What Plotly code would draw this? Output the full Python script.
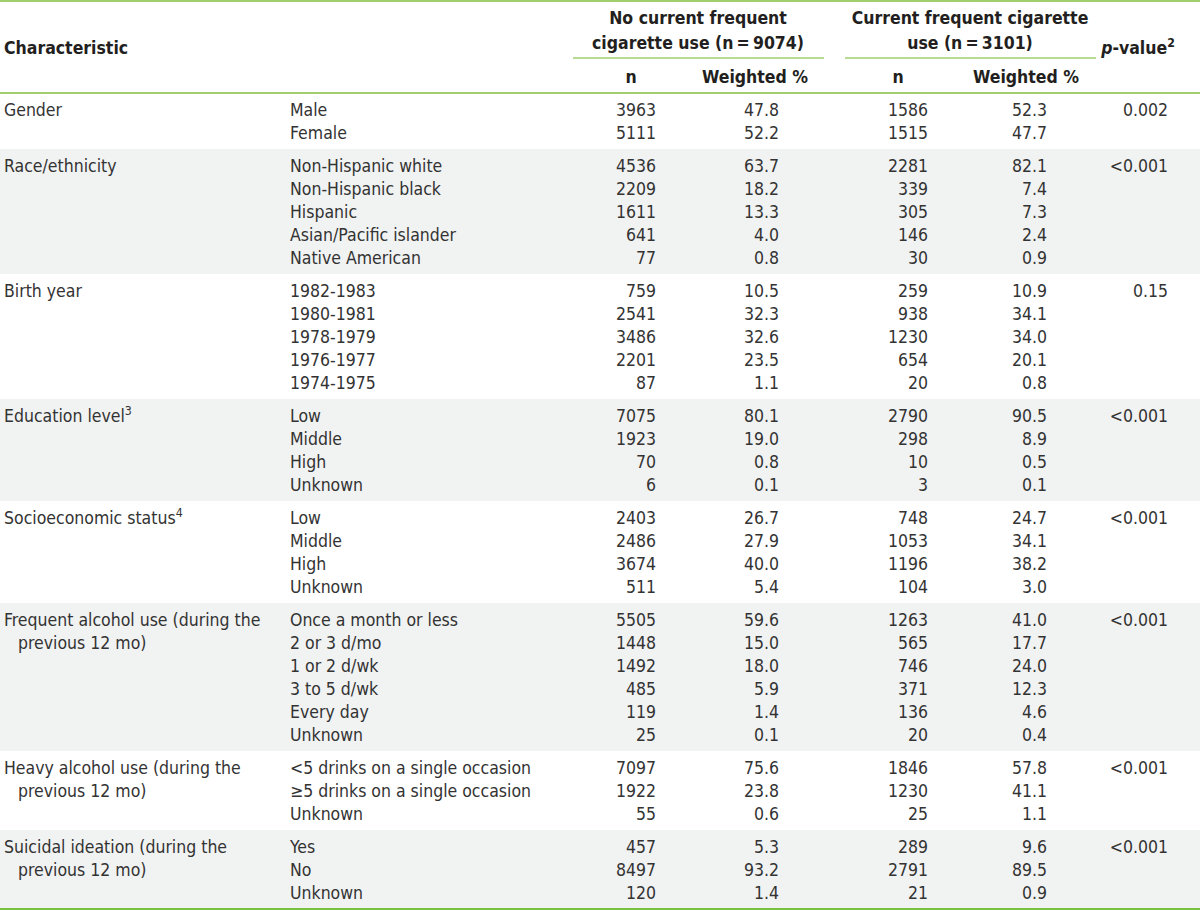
import plotly.graph_objects as go

# ---------------- data ----------------
characteristics = [
    ["Gender"],
    ["Race/ethnicity"],
    ["Birth year"],
    ["Education level<sup>3</sup>"],
    ["Socioeconomic status<sup>4</sup>"],
    ["Frequent alcohol use (during the", "previous 12 mo)"],
    ["Heavy alcohol use (during the", "previous 12 mo)"],
    ["Suicidal ideation (during the", "previous 12 mo)"],
]
subcategories = [
    ["Male", "Female"],
    ["Non-Hispanic white", "Non-Hispanic black", "Hispanic", "Asian/Pacific islander", "Native American"],
    ["1982-1983", "1980-1981", "1978-1979", "1976-1977", "1974-1975"],
    ["Low", "Middle", "High", "Unknown"],
    ["Low", "Middle", "High", "Unknown"],
    ["Once a month or less", "2 or 3 d/mo", "1 or 2 d/wk", "3 to 5 d/wk", "Every day", "Unknown"],
    ["<5 drinks on a single occasion", "\u22655 drinks on a single occasion", "Unknown"],
    ["Yes", "No", "Unknown"],
]
n_no = [
    [3963, 5111],
    [4536, 2209, 1611, 641, 77],
    [759, 2541, 3486, 2201, 87],
    [7075, 1923, 70, 6],
    [2403, 2486, 3674, 511],
    [5505, 1448, 1492, 485, 119, 25],
    [7097, 1922, 55],
    [457, 8497, 120],
]
pct_no = [
    ["47.8", "52.2"],
    ["63.7", "18.2", "13.3", "4.0", "0.8"],
    ["10.5", "32.3", "32.6", "23.5", "1.1"],
    ["80.1", "19.0", "0.8", "0.1"],
    ["26.7", "27.9", "40.0", "5.4"],
    ["59.6", "15.0", "18.0", "5.9", "1.4", "0.1"],
    ["75.6", "23.8", "0.6"],
    ["5.3", "93.2", "1.4"],
]
n_yes = [
    [1586, 1515],
    [2281, 339, 305, 146, 30],
    [259, 938, 1230, 654, 20],
    [2790, 298, 10, 3],
    [748, 1053, 1196, 104],
    [1263, 565, 746, 371, 136, 20],
    [1846, 1230, 25],
    [289, 2791, 21],
]
pct_yes = [
    ["52.3", "47.7"],
    ["82.1", "7.4", "7.3", "2.4", "0.9"],
    ["10.9", "34.1", "34.0", "20.1", "0.8"],
    ["90.5", "8.9", "0.5", "0.1"],
    ["24.7", "34.1", "38.2", "3.0"],
    ["41.0", "17.7", "24.0", "12.3", "4.6", "0.4"],
    ["57.8", "41.1", "1.1"],
    ["9.6", "89.5", "0.9"],
]
p_values = ["0.002", "<0.001", "0.15", "<0.001", "<0.001", "<0.001", "<0.001", "<0.001"]

group_header_1 = ["No current frequent", "cigarette use (n\u2009=\u20099074)"]
group_header_2 = ["Current frequent cigarette", "use (n\u2009=\u20093101)"]
sub_headers = ["n", "Weighted %", "n", "Weighted %"]

# ---------------- style / layout constants ----------------
W, H = 1200, 911
FONT = "DejaVu Sans Condensed, Liberation Sans Narrow, Arial Narrow, sans-serif"
BODY = 17.5
HEAD = 17.5
TXT = "#333333"
HTXT = "#231f20"
GREEN_LIGHT = "#9fcf6e"
GREEN = "#7cc242"
BAND = "#f1f2f2"

HEADER_BOTTOM = 93
ROW = 23
PAD_TOP = 16.5
PAD_EXTRA = 10
DY = 2.5  # optical shift of text baseline

X_CHAR, X_CHAR_INDENT, X_SUB = 4, 18, 290
X_N1, X_W1, X_N2, X_W2, X_P = 656, 779, 928, 1047, 1168


def esc(s):
    return s.replace("<5", "&lt;5").replace("<0", "&lt;0")


fig = go.Figure()
shapes = []

char_x, char_y, char_t = [], [], []
sub_y, sub_t = [], []
n1, w1, n2, w2 = [], [], [], []
p_y, p_t = [], []

top = HEADER_BOTTOM
for g, subs in enumerate(subcategories):
    k = len(subs)
    height = ROW * k + PAD_EXTRA
    if g % 2 == 1:
        shapes.append(dict(type="rect", xref="x", yref="y", x0=0, x1=W, y0=top, y1=top + height,
                           fillcolor=BAND, line=dict(width=0), layer="below"))
    ys = [top + PAD_TOP + DY + ROW * i for i in range(k)]
    for j, line in enumerate(characteristics[g]):
        char_x.append(X_CHAR if j == 0 else X_CHAR_INDENT)
        char_y.append(ys[j])
        char_t.append(line)
    sub_y += ys
    sub_t += [esc(s) for s in subs]
    n1 += [str(v) for v in n_no[g]]
    w1 += pct_no[g]
    n2 += [str(v) for v in n_yes[g]]
    w2 += pct_yes[g]
    p_y.append(ys[0])
    p_t.append(esc(p_values[g]))
    top += height


def text_trace(xs, ys, texts, pos, size=BODY, color=TXT):
    return go.Scatter(x=xs, y=ys, text=texts, mode="text", textposition=pos,
                      textfont=dict(family=FONT, size=size, color=color),
                      hoverinfo="skip", showlegend=False, cliponaxis=False)


fig.add_trace(text_trace(char_x, char_y, char_t, "middle right"))
fig.add_trace(text_trace([X_SUB] * len(sub_y), sub_y, sub_t, "middle right"))
fig.add_trace(text_trace([X_N1] * len(sub_y), sub_y, n1, "middle left"))
fig.add_trace(text_trace([X_W1] * len(sub_y), sub_y, w1, "middle left"))
fig.add_trace(text_trace([X_N2] * len(sub_y), sub_y, n2, "middle left"))
fig.add_trace(text_trace([X_W2] * len(sub_y), sub_y, w2, "middle left"))
fig.add_trace(text_trace([X_P] * len(p_y), p_y, p_t, "middle left"))

# headers
bold = lambda s: "<b>" + s + "</b>"
fig.add_trace(text_trace([X_CHAR], [47 + DY], [bold("Characteristic")], "middle right", HEAD, HTXT))
fig.add_trace(text_trace([698, 698], [17 + DY, 42 + DY], [bold(s) for s in group_header_1], "middle center", HEAD, HTXT))
fig.add_trace(text_trace([970, 970], [17 + DY, 42 + DY], [bold(s) for s in group_header_2], "middle center", HEAD, HTXT))
fig.add_trace(text_trace([631, 755, 898, 1026], [76 + DY] * 4, [bold(s) for s in sub_headers], "middle center", HEAD, HTXT))
fig.add_trace(text_trace([1138], [47 + DY], ["<b><i>p</i>-value<sup>2</sup></b>"], "middle center", HEAD, HTXT))


def hline(x0, x1, y, color, width):
    shapes.append(dict(type="line", xref="x", yref="y", x0=x0, x1=x1, y0=y, y1=y,
                       line=dict(color=color, width=width)))


hline(0, W, 1, GREEN_LIGHT, 2)
hline(573, 824, 58, GREEN_LIGHT, 1.5)
hline(845, 1096, 58, GREEN_LIGHT, 1.5)
hline(0, W, HEADER_BOTTOM, GREEN_LIGHT, 2)
hline(0, W, top, GREEN, 2)

fig.update_layout(
    width=W, height=H,
    margin=dict(l=0, r=0, t=0, b=0),
    paper_bgcolor="white", plot_bgcolor="white",
    shapes=shapes,
    xaxis=dict(range=[0, W], visible=False, fixedrange=True),
    yaxis=dict(range=[H, 0], visible=False, fixedrange=True),
)

fig.write_html("out.html", config={"displayModeBar": False},
               post_script="document.body.style.margin='0px';")
